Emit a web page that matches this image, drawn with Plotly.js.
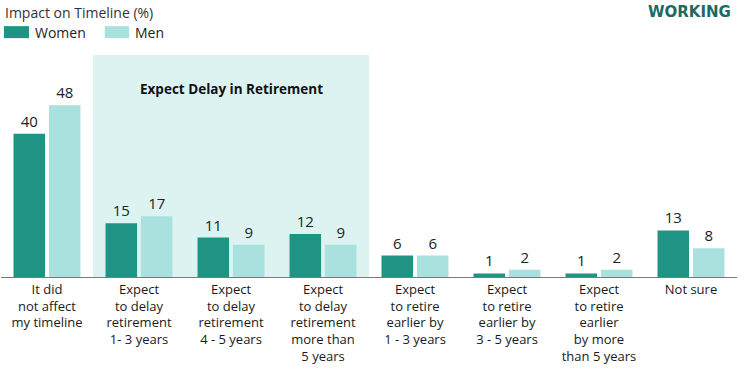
<!DOCTYPE html>
<html>
<head>
<meta charset="utf-8">
<script src="https://cdn.plot.ly/plotly-3.0.1.min.js"></script>
<style>html,body{margin:0;padding:0;background:#fff;}#chart{width:738px;height:375px;}</style>
</head>
<body>
<div id="chart"></div>
<script>
const categories = [
  "It did<br>not affect<br>my timeline",
  "Expect<br>to delay<br>retirement<br>1- 3 years",
  "Expect<br>to delay<br>retirement<br>4 - 5 years",
  "Expect<br>to delay<br>retirement<br>more than<br>5 years",
  "Expect<br>to retire<br>earlier by<br>1 - 3 years",
  "Expect<br>to retire<br>earlier by<br>3 - 5 years",
  "Expect<br>to retire<br>earlier<br>by more<br>than 5 years",
  "Not sure"
];
const women = [40, 15, 11, 12, 6, 1, 1, 13];
const men = [48, 17, 9, 9, 6, 2, 2, 8];
const seriesNames = ["Women", "Men"];
const colors = ["#1f9485", "#a9e1de"];
const FONT = "Open Sans, sans-serif";

const idx = categories.map((c, i) => i);
const traces = [women, men].map((vals, k) => ({
  type: "bar",
  name: seriesNames[k],
  x: idx,
  y: vals,
  marker: {color: colors[k]},
  text: vals.map(String),
  textposition: "outside",
  cliponaxis: false,
  textfont: {family: FONT, size: 15, color: "#222"},
  hoverinfo: "skip"
}));

const layout = {
  width: 738, height: 375,
  margin: {l: 1, r: 1, t: 55, b: 98},
  paper_bgcolor: "#fff", plot_bgcolor: "rgba(0,0,0,0)",
  barmode: "group", bargap: 0.23, bargroupgap: 0.11,
  showlegend: false,
  xaxis: {
    tickmode: "array", tickvals: idx, ticktext: categories,
    range: [-0.5, categories.length - 0.5],
    showline: true, linecolor: "#7a7a7a", linewidth: 1,
    showgrid: false, zeroline: false, ticks: "",
    tickfont: {family: FONT, size: 13, color: "#1a1a1a"},
    fixedrange: true
  },
  yaxis: {range: [0, 62], visible: false, fixedrange: true},
  shapes: [
    {type: "rect", xref: "x", yref: "paper", x0: 0.5, x1: 3.5, y0: 0, y1: 1,
     fillcolor: "#dcf3f1", line: {width: 0}, layer: "below"},
    {type: "rect", xref: "paper", yref: "paper", x0: 0.004, x1: 0.038, y0: 1.076, y1: 1.13,
     fillcolor: colors[0], line: {width: 0}},
    {type: "rect", xref: "paper", yref: "paper", x0: 0.141, x1: 0.174, y0: 1.076, y1: 1.13,
     fillcolor: colors[1], line: {width: 0}}
  ],
  annotations: [
    {text: "Impact on Timeline (%)", xref: "paper", yref: "paper", x: 0.003, y: 1.19,
     xanchor: "left", yanchor: "middle", showarrow: false,
     font: {family: FONT, size: 14, color: "#333"}},
    {text: "Women", xref: "paper", yref: "paper", x: 0.043, y: 1.103,
     xanchor: "left", yanchor: "middle", showarrow: false,
     font: {family: FONT, size: 14, color: "#222"}},
    {text: "Men", xref: "paper", yref: "paper", x: 0.179, y: 1.103,
     xanchor: "left", yanchor: "middle", showarrow: false,
     font: {family: FONT, size: 14, color: "#222"}},
    {text: "<b>WORKING</b>", xref: "paper", yref: "paper", x: 0.995, y: 1.195,
     xanchor: "right", yanchor: "middle", showarrow: false,
     font: {family: "DejaVu Sans, sans-serif", size: 15, color: "#1d6a63"}},
    {text: "<b>Expect Delay in Retirement</b>", xref: "x", yref: "paper", x: 2.0, y: 0.845,
     xanchor: "center", yanchor: "middle", showarrow: false,
     font: {family: FONT, size: 13.5, color: "#111"}}
  ]
};

Plotly.newPlot("chart", traces, layout, {displayModeBar: false, staticPlot: true});
</script>
</body>
</html>
